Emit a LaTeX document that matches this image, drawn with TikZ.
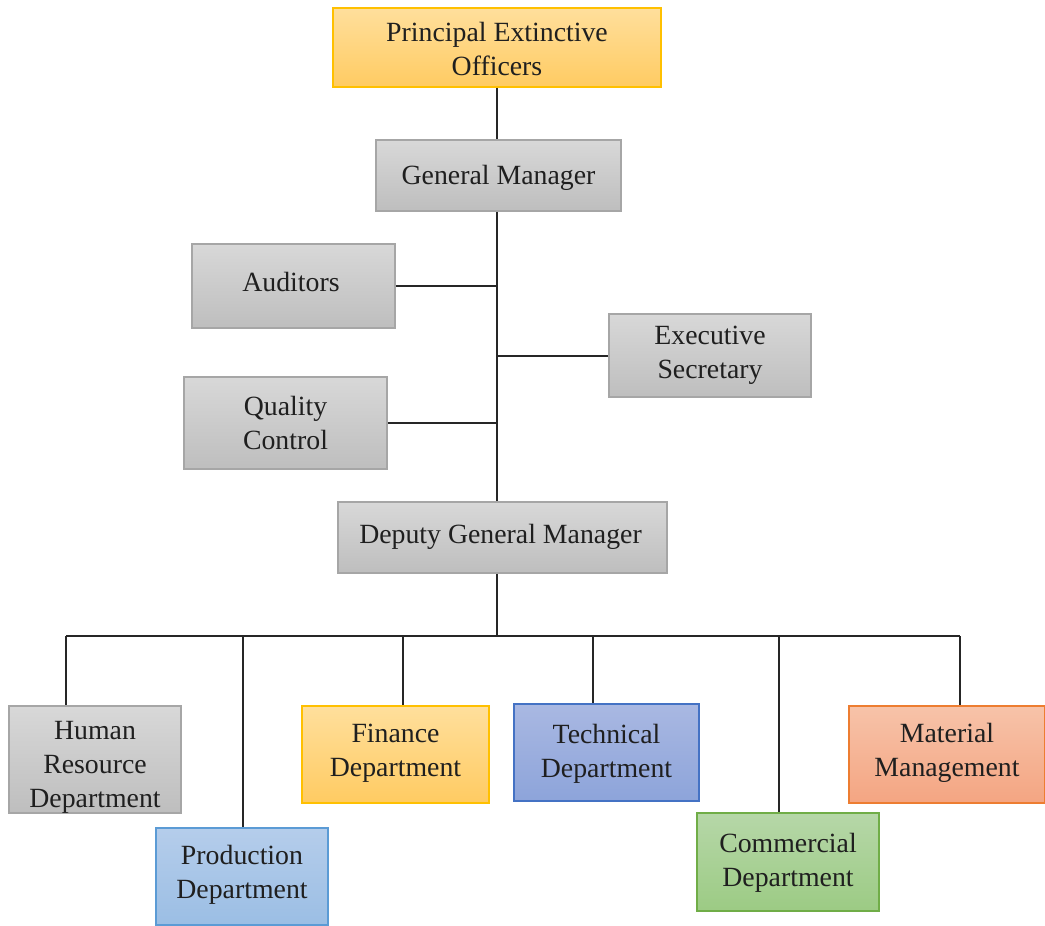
\documentclass[tikz,border=0pt]{standalone}
\usepackage{fontspec}
\setmainfont{Liberation Serif}
\begin{document}
\begin{tikzpicture}[x=0.5pt,y=-0.5pt]
\useasboundingbox (0,0) rectangle (1045,926);
\definecolor{techtop}{HTML}{A9B8E2}\definecolor{techbot}{HTML}{8DA4DA}\definecolor{techline}{HTML}{4472C4}
\definecolor{comtop}{HTML}{B6D7A8}\definecolor{combot}{HTML}{9CCB84}\definecolor{comline}{HTML}{70AD47}
\definecolor{mattop}{HTML}{F7C3A9}\definecolor{matbot}{HTML}{F4A582}\definecolor{matline}{HTML}{ED7D31}
\definecolor{protop}{HTML}{B5CDEB}\definecolor{probot}{HTML}{9BBEE4}\definecolor{proline}{HTML}{5B9BD5}
\definecolor{goldtop}{HTML}{FFDF9C}\definecolor{goldbot}{HTML}{FFCB62}\definecolor{goldline}{HTML}{FFC000}
\definecolor{greytop}{HTML}{D8D8D8}\definecolor{greybot}{HTML}{BEBEBE}\definecolor{greyline}{HTML}{A6A6A6}
\tikzset{
  box/.style={draw, line width=0.8pt, inner sep=0pt},
  txt/.style={align=center, inner sep=0pt, font=\fontsize{13.9}{17}\selectfont, text=black!88},
  grey/.style={box, draw=greyline, top color=greytop, bottom color=greybot},
  gold/.style={box, draw=goldline, top color=goldtop, bottom color=goldbot},
  pro/.style={box, draw=proline, top color=protop, bottom color=probot},
  tech/.style={box, draw=techline, top color=techtop, bottom color=techbot},
  com/.style={box, draw=comline, top color=comtop, bottom color=combot},
  mat/.style={box, draw=matline, top color=mattop, bottom color=matbot},
  conn/.style={line width=1pt, draw=black!85}}
% boxes
\node[gold, minimum width=164pt, minimum height=39.5pt] (peo) at (497,47.5) {};
\node[grey, minimum width=122.5pt, minimum height=35.5pt] (gm) at (498.5,175.5) {};
\node[grey, minimum width=101.5pt, minimum height=42pt] (aud) at (293.5,286) {};
\node[grey, minimum width=101pt, minimum height=41.5pt] (es) at (710,355.5) {};
\node[grey, minimum width=101.5pt, minimum height=46pt] (qc) at (285.5,423) {};
\node[grey, minimum width=164.5pt, minimum height=35.5pt] (dgm) at (502.5,537.5) {};
\node[grey, minimum width=86pt, minimum height=53.5pt] (hr) at (95,759.5) {};
\node[pro, minimum width=86pt, minimum height=48.5pt] (pro) at (242,876.5) {};
\node[gold, minimum width=93.5pt, minimum height=48.5pt] (fin) at (395.5,754.5) {};
\node[tech, minimum width=92.5pt, minimum height=48.5pt] (tech) at (606.5,752.5) {};
\node[com, minimum width=91pt, minimum height=49pt] (com) at (788,862) {};
\node[mat, minimum width=98pt, minimum height=48.5pt] (mat) at (947,754.5) {};
% texts
\node[txt] (peo-t) at (497,49) {Principal Extinctive\\Officers};
\node[txt] (gm-t) at (498.5,178) {General Manager};
\node[txt] (aud-t) at (291,282) {Auditors};
\node[txt] (es-t) at (710,355) {Executive\\Secretary};
\node[txt] (qc-t) at (285.5,423) {Quality\\Control};
\node[txt] (dgm-t) at (500.5,537) {Deputy General Manager};
\begin{scope}
\clip (hr.south west) rectangle (hr.north east);
\node[txt] (hr-t) at (95,767) {Human\\Resource\\Department};
\end{scope}
\node[txt] (pro-t) at (242,875) {Production\\Department};
\node[txt] (fin-t) at (395.5,753) {Finance\\Department};
\node[txt] (tech-t) at (606.5,753.5) {Technical\\Department};
\node[txt] (com-t) at (788,863) {Commercial\\Department};
\node[txt] (mat-t) at (947,752.5) {Material\\Management};
% junction coordinates
\coordinate (spine) at (497,0);
\coordinate (bus) at (497,636);
\coordinate (dhr) at (66,636);
\coordinate (dpro) at (243,636);
\coordinate (dfin) at (403,636);
\coordinate (dtech) at (593,636);
\coordinate (dcom) at (779,636);
\coordinate (dmat) at (960,636);
% connectors
\draw[conn] (peo.south -| spine) -- (gm.north -| spine);
\draw[conn] (gm.south -| spine) -- (dgm.north -| spine);
\draw[conn] (aud.east) -- (aud.east -| spine);
\draw[conn] (es.west) -- (es.west -| spine);
\draw[conn] (qc.east) -- (qc.east -| spine);
\draw[conn] (dgm.south -| spine) -- (bus);
\draw[conn] (dhr) -- (dmat);
\draw[conn] (dhr) -- (dhr |- hr.north);
\draw[conn] (dpro) -- (dpro |- pro.north);
\draw[conn] (dfin) -- (dfin |- fin.north);
\draw[conn] (dtech) -- (dtech |- tech.north);
\draw[conn] (dcom) -- (dcom |- com.north);
\draw[conn] (dmat) -- (dmat |- mat.north);
\end{tikzpicture}
\end{document}
